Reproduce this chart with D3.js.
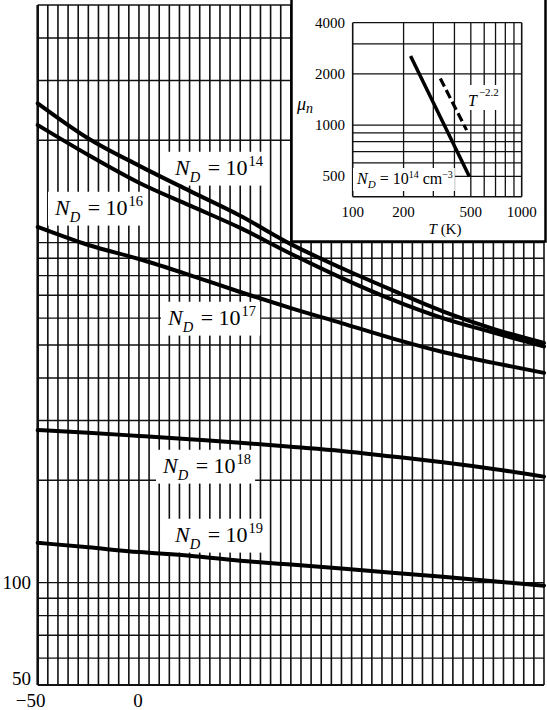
<!DOCTYPE html>
<html>
<head>
<meta charset="utf-8">
<script src="https://cdn.jsdelivr.net/npm/d3@7"></script>
<style>
  html, body { margin: 0; padding: 0; background: #fff; }
  svg { display: block; }
</style>
</head>
<body>
<svg id="chart" width="547" height="710"></svg>
<script>
// ---------- data ----------
const temps = [-50, -25, 0, 25, 50, 75, 100, 125, 150, 175, 200];     // °C
const mu14 = [2569, 2025, 1685, 1420, 1200, 990, 842, 725, 628, 558, 507];
const mu16 = [2218, 1811, 1501, 1287, 1105, 928, 788, 680, 600, 544, 495];
const mu17 = [1112, 984, 895, 803, 716, 642, 580, 523, 477, 443, 414];
const mu18 = [281, 276, 270, 264, 258, 251, 244, 235, 226, 216, 205];
const mu19 = [131, 127, 123, 120, 116, 113, 110, 107, 104, 101, 98];
const labelExps = ["14", "16", "17", "18", "19"];

const yGridValues = [50, 60, 70, 80, 90, 100, 200, 300, 400, 500, 600, 700, 800, 900, 1000, 2000, 3000, 4000, 5000];
const xGridValues = d3.range(-50, 201, 5);
const yTickLabels = [50, 100];
const xTickLabels = [-50, 0];

// inset
const insetXGrid = [100, 200, 300, 400, 500, 600, 700, 800, 900, 1000];
const insetYGrid = [500, 600, 700, 800, 900, 1000, 2000, 3000, 4000];
const insetXTicks = [100, 200, 500, 1000];
const insetYTicks = [500, 1000, 2000, 4000];
const solidT = [220, 490], solidMu = [2550, 500];
const dashT = [330, 472], dashMu = [1880, 935];

// ---------- drawing ----------
const svg = d3.select("#chart");
const FONT = "Liberation Serif, Times New Roman, serif";
svg.append("rect").attr("width", 547).attr("height", 710).attr("fill", "#fff");

const x = d3.scaleLinear().domain([-50, 200]).range([37.7, 544]);
const y = d3.scaleLog().domain([50, 5000]).range([685, 5]);

const grid = svg.append("g");
grid.selectAll("line.v").data(xGridValues).join("line")
  .attr("x1", d => x(d)).attr("x2", d => x(d))
  .attr("y1", y(5000)).attr("y2", y(50))
  .attr("stroke", "#111").attr("stroke-width", d => d === -50 ? 2.6 : 1.6);
grid.selectAll("line.h").data(yGridValues).join("line")
  .attr("x1", x(-50)).attr("x2", x(200))
  .attr("y1", d => y(d)).attr("y2", d => y(d))
  .attr("stroke", "#111").attr("stroke-width", d => d === 50 ? 2 : 1.4);

// tick labels
svg.selectAll("text.yl").data(yTickLabels).join("text")
  .attr("x", 31).attr("y", d => d === 50 ? y(d) : y(d) + 6.5)
  .attr("text-anchor", "end").attr("font-family", FONT).attr("font-size", 19)
  .text(d => d);
svg.selectAll("text.xl").data(xTickLabels).join("text")
  .attr("x", d => x(d) + (d < 0 ? -7 : -1)).attr("y", 707)
  .attr("text-anchor", "middle").attr("font-family", FONT).attr("font-size", 19)
  .text(d => d < 0 ? "\u2212" + Math.abs(d) : d);

// label boxes + labels
const labelPos = [[175, 175], [55, 215], [168, 325], [163, 473], [175, 542]];
const labelLayer = svg.append("g");
function ndLabel(g, lx, ly, exp, size) {
  const t = g.append("text").attr("x", lx).attr("y", ly)
    .attr("font-family", FONT).attr("font-size", size).attr("fill", "#000");
  t.append("tspan").attr("font-style", "italic").text("N");
  t.append("tspan").attr("font-style", "italic").attr("font-size", size * 0.66)
    .attr("dy", size * 0.3).text("D");
  t.append("tspan").attr("dy", -size * 0.3).attr("dx", 2).text(" = 10");
  t.append("tspan").attr("font-size", size * 0.66).attr("dy", -size * 0.42).attr("dx", 1).text(exp);
  return t;
}
const boxLayer = svg.append("g");
const curveLayer = svg.append("g");
labelExps.forEach((e, i) => {
  const t = ndLabel(labelLayer, labelPos[i][0], labelPos[i][1], e, 22);
  const b = t.node().getBBox();
  boxLayer.append("rect").attr("x", b.x - 6).attr("y", b.y - 1)
    .attr("width", b.width + 10).attr("height", b.height + 2).attr("fill", "#fff");
});

// curves
const line = d3.line().x(d => x(d[0])).y(d => y(d[1])).curve(d3.curveMonotoneX);
[mu14, mu16, mu17, mu18, mu19].forEach(s => {
  curveLayer.append("path").datum(temps.map((t, i) => [t, s[i]]))
    .attr("d", line).attr("fill", "none").attr("stroke", "#000")
    .attr("stroke-width", 4).attr("stroke-linecap", "round");
});
labelLayer.raise();

// ---------- inset ----------
const inset = svg.append("g");
inset.append("rect").attr("x", 291.5).attr("y", -3).attr("width", 254).attr("height", 244.5)
  .attr("fill", "#fff").attr("stroke", "#000").attr("stroke-width", 2.5);

const xi = d3.scaleLog().domain([100, 1000]).range([352.7, 521.7]);
const yi = d3.scaleLog().domain([380, 4000]).range([196.7, 22.7]);

inset.selectAll("line.iv").data(insetXGrid).join("line")
  .attr("x1", d => xi(d)).attr("x2", d => xi(d))
  .attr("y1", yi(4000)).attr("y2", yi(380))
  .attr("stroke", "#111").attr("stroke-width", d => (d === 100 || d === 1000) ? 1.6 : 1.3);
inset.selectAll("line.ih").data(insetYGrid).join("line")
  .attr("x1", xi(100)).attr("x2", xi(1000))
  .attr("y1", d => yi(d)).attr("y2", d => yi(d))
  .attr("stroke", "#111").attr("stroke-width", 1.3);
inset.append("line").attr("x1", xi(100)).attr("x2", xi(1000))
  .attr("y1", yi(380)).attr("y2", yi(380)).attr("stroke", "#111").attr("stroke-width", 1.6);

inset.selectAll("text.iy").data(insetYTicks).join("text")
  .attr("x", 345).attr("y", d => yi(d) + 5)
  .attr("text-anchor", "end").attr("font-family", FONT).attr("font-size", 15).text(d => d);
inset.selectAll("text.ix").data(insetXTicks).join("text")
  .attr("x", d => xi(d)).attr("y", 217)
  .attr("text-anchor", "middle").attr("font-family", FONT).attr("font-size", 15).text(d => d);

const tk = inset.append("text").attr("x", 445).attr("y", 234).attr("text-anchor", "middle")
  .attr("font-family", FONT).attr("font-size", 15);
tk.append("tspan").attr("font-style", "italic").text("T");
tk.append("tspan").text(" (K)");

const mu = inset.append("text").attr("x", 297).attr("y", 110)
  .attr("font-family", FONT).attr("font-size", 18);
mu.append("tspan").attr("font-style", "italic").text("\u03bc");
mu.append("tspan").attr("font-style", "italic").attr("font-size", 14).attr("dy", 3).text("n");

// inset label boxes
const ilab = inset.append("g");
const nd = ilab.append("text").attr("x", 357).attr("y", 184)
  .attr("font-family", FONT).attr("font-size", 16);
nd.append("tspan").attr("font-style", "italic").text("N");
nd.append("tspan").attr("font-style", "italic").attr("font-size", 11).attr("dy", 4).text("D");
nd.append("tspan").attr("dy", -4).text(" = 10");
nd.append("tspan").attr("font-size", 10).attr("dy", -6).text("14");
nd.append("tspan").attr("dy", 6).text(" cm");
nd.append("tspan").attr("font-size", 10).attr("dy", -6).text("\u22123");
const tp = ilab.append("text").attr("x", 468).attr("y", 106)
  .attr("font-family", FONT).attr("font-size", 16);
tp.append("tspan").attr("font-style", "italic").text("T");
tp.append("tspan").attr("font-size", 11).attr("dy", -10).attr("dx", 2).text("\u22122.2");
[nd, tp].forEach(t => {
  const b = t.node().getBBox();
  ilab.insert("rect", "text").attr("x", b.x - 3).attr("y", b.y - 1)
    .attr("width", b.width + 5).attr("height", b.height + 2).attr("fill", "#fff");
});

const lineI = d3.line().x(d => xi(d[0])).y(d => yi(d[1]));
inset.append("path").datum(solidT.map((t, i) => [t, solidMu[i]]))
  .attr("d", lineI).attr("stroke", "#000").attr("stroke-width", 3.5).attr("fill", "none");
inset.append("path").datum(dashT.map((t, i) => [t, dashMu[i]]))
  .attr("d", lineI).attr("stroke", "#000").attr("stroke-width", 3.2).attr("fill", "none")
  .attr("stroke-dasharray", "9,4");
ilab.raise();
</script>
</body>
</html>
